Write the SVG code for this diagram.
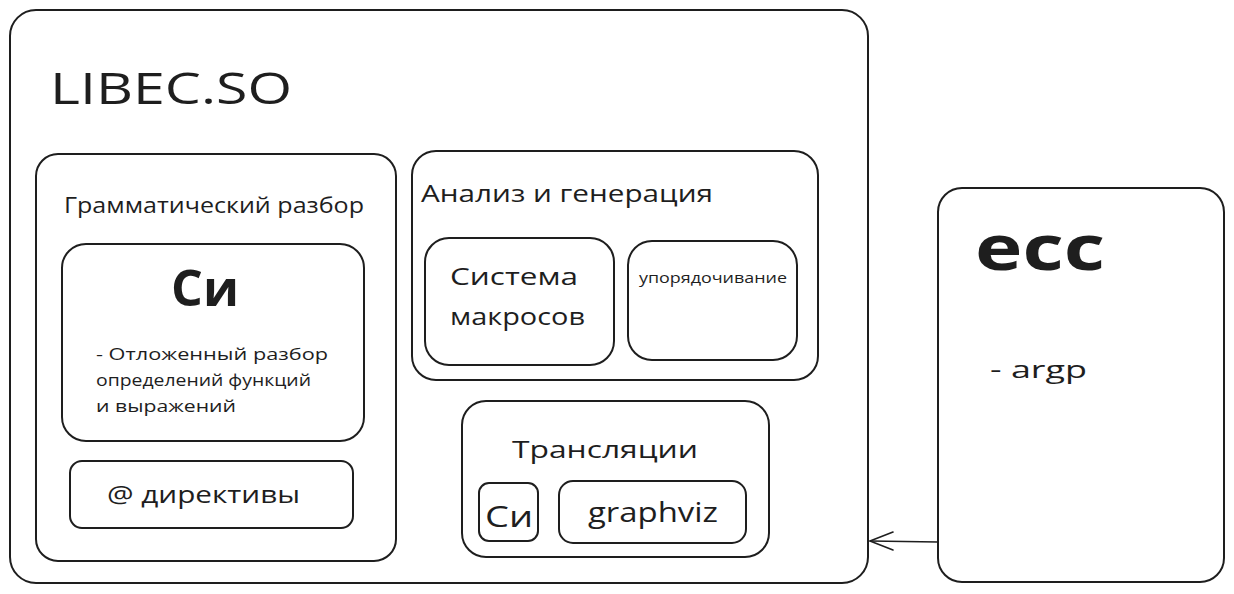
<svg xmlns="http://www.w3.org/2000/svg" width="1234" height="594" viewBox="0 0 1234 594">
<style>
.box{fill:#fff;stroke:#1e1e1e;stroke-width:2;}
.t{font-family:"Open Sans","DejaVu Sans",sans-serif;fill:#1e1e1e;}
.edge{fill:none;stroke:#1e1e1e;stroke-width:1.6;stroke-linecap:round;stroke-linejoin:round;}
</style>
<rect width="1234" height="594" fill="#fff"/>
<g id="libec">
<rect class="box" x="10" y="10" width="858" height="573" rx="26"/>
<text class="t" x="50" y="104" font-size="44" textLength="242" lengthAdjust="spacingAndGlyphs">LIBEC.SO</text>
</g>
<g id="grammar">
<rect class="box" x="36" y="154" width="360" height="407" rx="22"/>
<text class="t" x="64" y="213" font-size="22" textLength="300" lengthAdjust="spacingAndGlyphs">Грамматический разбор</text>
</g>
<g id="ci-parse">
<rect class="box" x="62" y="244" width="302" height="197" rx="24"/>
<text class="t" x="205" y="306" font-size="50" font-weight="bold" text-anchor="middle">Си</text>
<text class="t" font-size="17">
<tspan x="96" y="360" textLength="232" lengthAdjust="spacingAndGlyphs">- Отложенный разбор</tspan>
<tspan x="96" y="386" textLength="215" lengthAdjust="spacingAndGlyphs">определений функций</tspan>
<tspan x="96" y="412" textLength="140" lengthAdjust="spacingAndGlyphs">и выражений</tspan>
</text>
</g>
<g id="directives">
<rect class="box" x="70" y="461" width="283" height="67" rx="12"/>
<text class="t" x="107" y="503" font-size="24" textLength="193" lengthAdjust="spacingAndGlyphs">@ директивы</text>
</g>
<g id="analysis">
<rect class="box" x="412" y="151" width="406" height="229" rx="24"/>
<text class="t" x="421" y="202" font-size="24" textLength="292" lengthAdjust="spacingAndGlyphs">Анализ и генерация</text>
</g>
<g id="macros">
<rect class="box" x="425" y="238" width="189" height="127" rx="24"/>
<text class="t" font-size="24">
<tspan x="450" y="285" textLength="128" lengthAdjust="spacingAndGlyphs">Система</tspan>
<tspan x="450" y="325" textLength="135" lengthAdjust="spacingAndGlyphs">макросов</tspan>
</text>
</g>
<g id="ordering">
<rect class="box" x="628" y="241" width="169" height="119" rx="24"/>
<text class="t" x="639" y="283" font-size="15" textLength="148" lengthAdjust="spacingAndGlyphs">упорядочивание</text>
</g>
<g id="translations">
<rect class="box" x="462" y="401" width="307" height="156" rx="24"/>
<text class="t" x="512" y="458" font-size="24" textLength="186" lengthAdjust="spacingAndGlyphs">Трансляции</text>
</g>
<g id="ci-out">
<rect class="box" x="479" y="483" width="59" height="58" rx="10"/>
<text class="t" x="485" y="527" font-size="30" textLength="48" lengthAdjust="spacingAndGlyphs">Си</text>
</g>
<g id="graphviz">
<rect class="box" x="559" y="481" width="187" height="62" rx="14"/>
<text class="t" x="588" y="522" font-size="28" textLength="130" lengthAdjust="spacingAndGlyphs">graphviz</text>
</g>
<g id="ecc">
<rect class="box" x="938" y="188" width="286" height="394" rx="24"/>
<text class="t" x="975" y="270" font-size="62" font-weight="bold" textLength="130" lengthAdjust="spacingAndGlyphs">ecc</text>
<text class="t" x="990" y="378" font-size="24" textLength="97" lengthAdjust="spacingAndGlyphs">- argp</text>
</g>
<g id="connectors">
<path class="edge" d="M938 542 L870 541"/>
<path class="edge" d="M893 532 L870 541 L893 550"/>
</g>
</svg>
